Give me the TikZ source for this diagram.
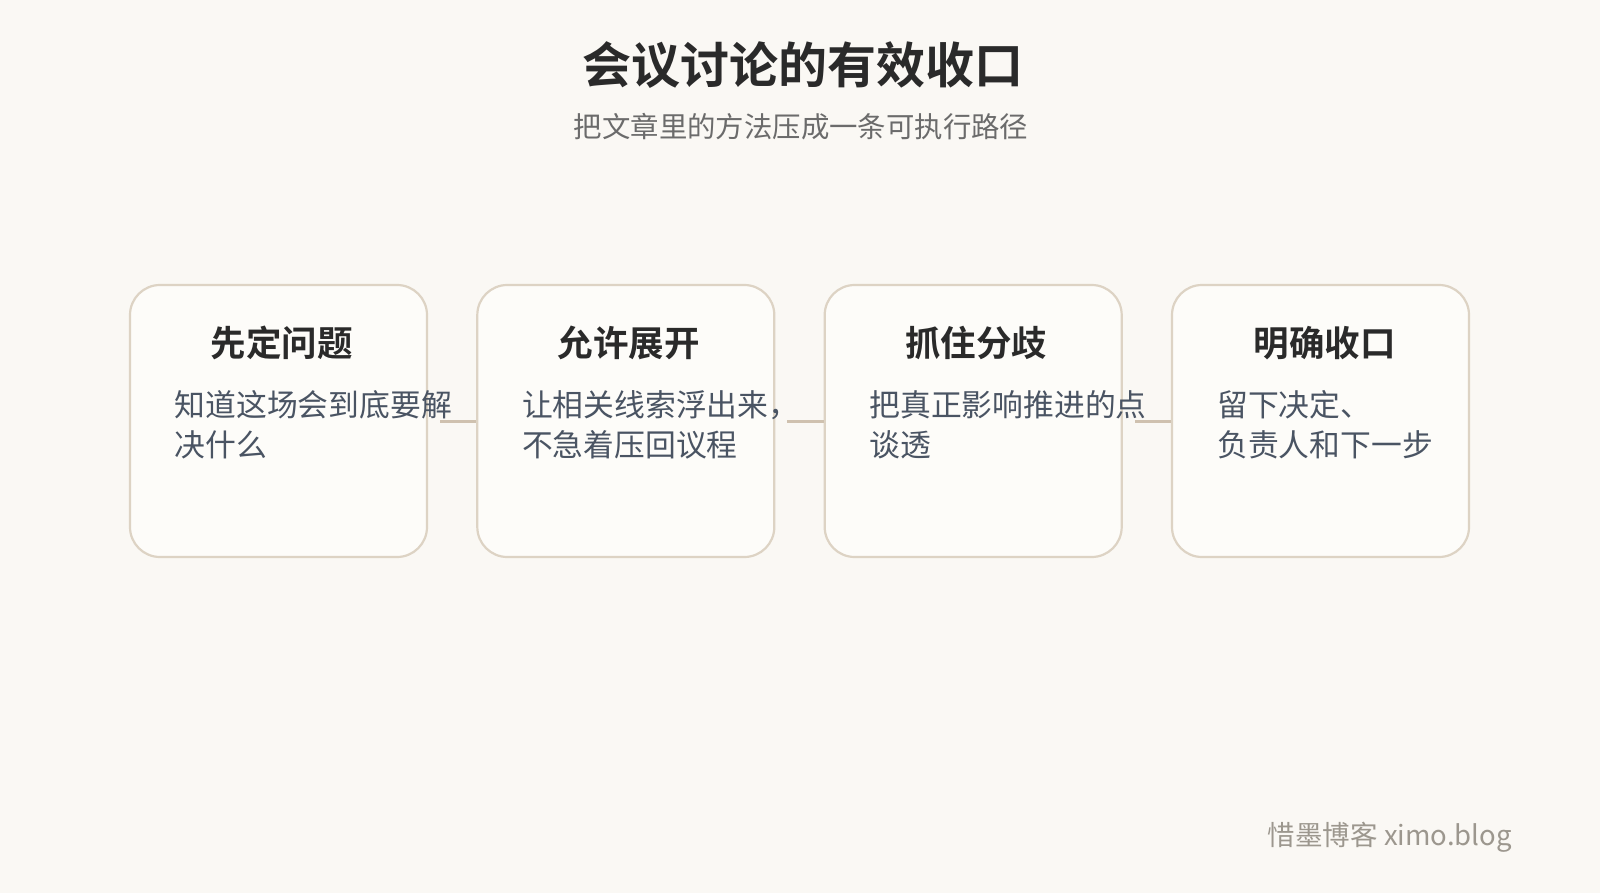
\documentclass[tikz,border=0pt]{standalone}
\usepackage{fontspec}
\setmainfont{Noto Sans CJK SC}
\newfontfamily\cjkb{Noto Sans CJK SC Bold}
\definecolor{bg}{HTML}{FAF8F4}
\definecolor{boxfill}{HTML}{FDFCF9}
\definecolor{boxline}{HTML}{DDD3C4}
\definecolor{conn}{HTML}{CFC1AF}
\definecolor{titlec}{HTML}{2A2A2A}
\definecolor{subc}{HTML}{6B6B6B}
\definecolor{bodyc}{HTML}{4A5463}
\definecolor{footc}{HTML}{9C978E}
\tikzset{
  card/.style={draw=boxline, line width=2.2pt, fill=boxfill, rounded corners=30pt, minimum width=297pt, minimum height=272pt, inner sep=0pt},
  cardtitle/.style={anchor=base, inner sep=0pt, font=\cjkb\fontsize{35.5}{40}\selectfont, text=titlec},
  cardbody/.style={anchor=base west, inner sep=0pt, align=left, font=\fontsize{30.8}{39.5}\selectfont, text=bodyc},
  link/.style={draw=conn, line width=3pt}
}
\begin{document}
\begin{tikzpicture}[x=1pt,y=-1pt]
\fill[bg] (0,0) rectangle (1600,893);
\useasboundingbox (0,0) rectangle (1600,893);
\node[anchor=base, inner sep=0pt, font=\cjkb\fontsize{49}{55}\selectfont, text=titlec] (title) at (803,84) {会议讨论的有效收口};
\node[anchor=base, inner sep=0pt, font=\fontsize{28.4}{33}\selectfont, text=subc] (sub) at (801,137.5) {把文章里的方法压成一条可执行路径};
% connector start points
\coordinate (c1a) at (440,421); \coordinate (c2a) at (787,421); \coordinate (c3a) at (1135,421);
\node[card] (b1) at (278.5,421) {};
\node[card] (b2) at (625.8,421) {};
\node[card] (b3) at (973.2,421) {};
\node[card] (b4) at (1320.5,421) {};
\draw[link] (c1a) -- (b2.west |- c1a);
\draw[link] (c2a) -- (b3.west |- c2a);
\draw[link] (c3a) -- (b4.west |- c3a);
\node[cardtitle] (t1) at (281.5,356) {先定问题};
\node[cardtitle] (t2) at (628.8,356) {允许展开};
\node[cardtitle] (t3) at (976.2,356) {抓住分歧};
\node[cardtitle] (t4) at (1324.5,356) {明确收口};
\node[cardbody] (d1) at (174.5,456) {知道这场会到底要解\\决什么};
\node[cardbody] (d2) at (521.8,456) {让相关线索浮出来，\\不急着压回议程};
\node[cardbody] (d3) at (869.2,456) {把真正影响推进的点\\谈透};
\node[cardbody] (d4) at (1217,456) {留下决定、\\负责人和下一步};
\node[anchor=base east, inner sep=0pt, font=\fontsize{27.5}{32}\selectfont, text=footc] (foot) at (1512,845) {惜墨博客 ximo.blog};
\end{tikzpicture}
\end{document}
